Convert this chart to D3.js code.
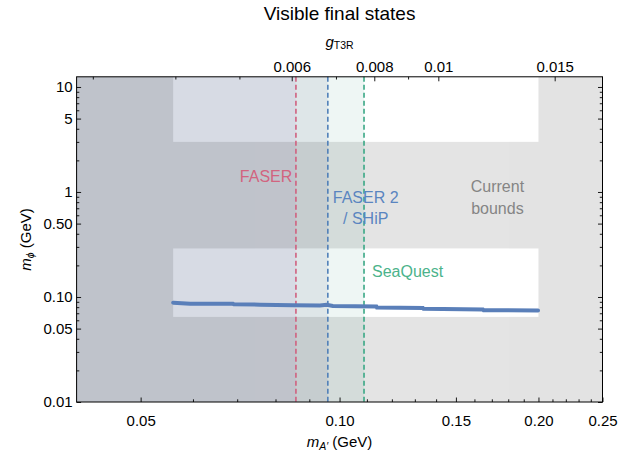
<!DOCTYPE html>
<html>
<head>
<meta charset="utf-8">
<script src="https://cdn.jsdelivr.net/npm/d3@7"></script>
<style>
  body { margin: 0; background: #fff; }
  svg { font-family: "Liberation Sans", Arial, sans-serif; }
</style>
</head>
<body>
<svg id="canvas"></svg>
<script>
// curve: mphi at the edge of sensitivity
const massA = [0.056, 0.0594, 0.069, 0.0692, 0.0758, 0.085, 0.0934, 0.0956, 0.0977, 0.1137, 0.1139, 0.1337, 0.134, 0.1648, 0.1652, 0.1997];
const massPhi = [0.0882, 0.0863, 0.086, 0.0852, 0.0845, 0.0836, 0.083, 0.0842, 0.082, 0.0812, 0.0796, 0.0785, 0.0772, 0.076, 0.0748, 0.0744];

// experiment reach in m_A' (GeV)
const experiments = ["FASER", "FASER 2", "SeaQuest"];
const reachA = [0.0859, 0.096, 0.1089];

// current bounds: [mA lo, mA hi, mphi lo, mphi hi]
const boundsA = [[0.04, 0.056], [0.2, 0.25], [0.04, 0.25], [0.04, 0.25]];
const boundsPhi = [[0.01, 12.5], [0.01, 12.5], [0.29, 3], [0.01, 0.0646]];

// ticks
const xMajor = [0.05, 0.1, 0.15, 0.2, 0.25];
const xMinor = [0.06, 0.07, 0.08, 0.09, 0.11, 0.12, 0.13, 0.14, 0.16, 0.17, 0.18, 0.19, 0.21, 0.22, 0.23, 0.24];
const yMajor = [0.01, 0.05, 0.1, 0.5, 1, 5, 10];
const yMinor = [0.02, 0.03, 0.04, 0.06, 0.07, 0.08, 0.09, 0.2, 0.3, 0.4, 0.6, 0.7, 0.8, 0.9, 2, 3, 4, 6, 7, 8, 9];
const gMajor = [0.006, 0.008, 0.01, 0.015];
const gMinor = [0.003, 0.004, 0.005, 0.007, 0.009];
const gPerMass = 0.07088; // g_T3R / m_A'

function getChartConfig() {
  let canvasWidth = 639,
    canvasHeight = 457;
  let margin = { top: 76.8, right: 36.5, bottom: 55, left: 76.6 };
  let width = canvasWidth - margin.left - margin.right;
  let height = canvasHeight - margin.top - margin.bottom;

  let svg = d3.select("#canvas");
  svg.attr("width", canvasWidth).attr("height", canvasHeight);

  return { canvasWidth, canvasHeight, margin, width, height, svg };
}

function getChartScales(config) {
  let { width, height } = config;
  let xScale = d3.scaleLog().domain([0.04, 0.25]).range([0, width]);
  let yScale = d3.scaleLog().domain([0.01, 12.5]).range([height, 0]);
  let gScale = d3.scaleLog().domain([0.04 * gPerMass, 0.25 * gPerMass]).range([0, width]);
  return { xScale, yScale, gScale };
}

function drawRegions(scales, config) {
  let { xScale, yScale } = scales;
  let { svg, margin, height } = config;
  let g = svg.append("g").attr("transform", `translate(${margin.left},${margin.top})`);

  const fills = ["#d7dbe4", "#dee6e8", "#eef6f4"];
  let lefts = [0.04].concat(reachA.slice(0, 2));
  g.selectAll(".reach")
    .data(reachA)
    .enter()
    .append("rect")
    .attr("x", (d, i) => xScale(lefts[i]))
    .attr("width", (d, i) => xScale(d) - xScale(lefts[i]))
    .attr("y", 0)
    .attr("height", height)
    .attr("fill", (d, i) => fills[i]);

  // union of bounds drawn at one opacity
  let bounds = g.append("g").attr("opacity", 0.105);
  bounds
    .selectAll("rect")
    .data(boundsA)
    .enter()
    .append("rect")
    .attr("x", (d) => xScale(d[0]))
    .attr("width", (d) => xScale(d[1]) - xScale(d[0]))
    .attr("y", (d, i) => yScale(boundsPhi[i][1]))
    .attr("height", (d, i) => yScale(boundsPhi[i][0]) - yScale(boundsPhi[i][1]))
    .attr("fill", "#000");
}

function drawChart(scales, config) {
  let { xScale, yScale } = scales;
  let { svg, margin, height } = config;
  let g = svg.append("g").attr("transform", `translate(${margin.left},${margin.top})`);

  const colors = ["#d0607f", "#4f7fb8", "#3aa886"];
  g.selectAll(".dash")
    .data(reachA)
    .enter()
    .append("line")
    .attr("x1", (d) => xScale(d))
    .attr("x2", (d) => xScale(d))
    .attr("y1", 0)
    .attr("y2", height)
    .attr("stroke", (d, i) => colors[i])
    .attr("stroke-width", 1.6)
    .attr("stroke-dasharray", "5,3");

  const lineGen = d3
    .line()
    .x((d) => xScale(d[0]))
    .y((d) => yScale(d[1]));

  g.append("path")
    .datum(massA.map((m, i) => [m, massPhi[i]]))
    .attr("fill", "none")
    .attr("stroke", "#5a7fb9")
    .attr("stroke-width", 4)
    .attr("stroke-linecap", "round")
    .attr("d", lineGen);

  // labels
  let t = svg.append("g").style("font-size", "16px");
  t.append("text").attr("x", 292.3).attr("y", 181.7).attr("text-anchor", "end")
    .attr("fill", "#d2647f").text("FASER");
  t.append("text").attr("x", 365.7).attr("y", 202.7).attr("text-anchor", "middle")
    .attr("fill", "#5a85c0").text("FASER 2");
  t.append("text").attr("x", 365.7).attr("y", 224).attr("text-anchor", "middle")
    .attr("fill", "#5a85c0").text("/ SHiP");
  t.append("text").attr("x", 372).attr("y", 276.5)
    .attr("fill", "#4cb38b").text("SeaQuest");
  t.append("text").attr("x", 497.4).attr("y", 191.7).attr("text-anchor", "middle")
    .attr("fill", "#858585").text("Current");
  t.append("text").attr("x", 497.4).attr("y", 214).attr("text-anchor", "middle")
    .attr("fill", "#858585").text("bounds");
}

function tickLabel(d) {
  if (d === 0.1) return "0.10";
  if (d === 0.5) return "0.50";
  if (d === 0.2) return "0.20";
  return String(d);
}

function drawAxes(scales, config) {
  let { xScale, yScale, gScale } = scales;
  let { svg, margin, width, height } = config;
  const major = 4.5, minor = 2.7;

  let layers = [
    [d3.axisBottom(xScale).tickValues(xMajor).tickFormat((d) => (d === 0.1 ? "0.10" : d === 0.2 ? "0.20" : d)).tickSize(-major).tickPadding(13), 0, height],
    [d3.axisBottom(xScale).tickValues(xMinor).tickFormat("").tickSize(-minor), 0, height],
    [d3.axisTop(gScale).tickValues(gMajor).tickFormat((d) => d).tickSize(-major).tickPadding(5), 0, 0],
    [d3.axisTop(gScale).tickValues(gMinor).tickFormat("").tickSize(-minor), 0, 0],
    [d3.axisLeft(yScale).tickValues(yMajor).tickFormat(tickLabel).tickSize(-major).tickPadding(4), 0, 0],
    [d3.axisLeft(yScale).tickValues(yMinor).tickFormat("").tickSize(-minor), 0, 0],
    [d3.axisRight(yScale).tickValues(yMajor).tickFormat("").tickSize(-major), width, 0],
    [d3.axisRight(yScale).tickValues(yMinor).tickFormat("").tickSize(-minor), width, 0],
  ];

  layers.forEach(([axis, dx, dy]) => {
    let a = svg
      .append("g")
      .attr("transform", `translate(${margin.left + dx},${margin.top + dy})`)
      .call(axis);
    a.select(".domain").remove();
    a.selectAll("line").attr("stroke", "#000").attr("stroke-width", 0.9);
    a.selectAll("text").attr("fill", "#000").style("font-size", "15px").style("font-family", null);
  });

  svg
    .append("rect")
    .attr("x", margin.left)
    .attr("y", margin.top)
    .attr("width", width)
    .attr("height", height)
    .attr("fill", "none")
    .attr("stroke", "#000")
    .attr("stroke-width", 1);

  let cx = margin.left + width / 2;

  svg.append("text").attr("x", cx).attr("y", 20).attr("text-anchor", "middle")
    .style("font-size", "19px").text("Visible final states");

  let gl = svg.append("text").attr("x", cx).attr("y", 46.5).attr("text-anchor", "middle")
    .style("font-size", "15px");
  gl.append("tspan").style("font-style", "italic").text("g");
  gl.append("tspan").attr("dy", 2.8).style("font-size", "10.5px").text("T3R");

  let xl = svg.append("text").attr("x", cx).attr("y", 447).attr("text-anchor", "middle")
    .style("font-size", "15px");
  xl.append("tspan").style("font-style", "italic").text("m");
  xl.append("tspan").attr("dy", 3).style("font-size", "10.5px").style("font-style", "italic").text("A′");
  xl.append("tspan").attr("dy", -3).text(" (GeV)");

  let yl = svg.append("text")
    .attr("transform", `translate(31,${margin.top + height / 2}) rotate(-90)`)
    .attr("text-anchor", "middle")
    .style("font-size", "15px");
  yl.append("tspan").style("font-style", "italic").text("m");
  yl.append("tspan").attr("dy", 3).style("font-size", "10.5px").style("font-style", "italic").text("ϕ");
  yl.append("tspan").attr("dy", -3).text(" (GeV)");
}

function showData() {
  let config = getChartConfig();
  let scales = getChartScales(config);
  drawRegions(scales, config);
  drawChart(scales, config);
  drawAxes(scales, config);
}

showData();
</script>
</body>
</html>
